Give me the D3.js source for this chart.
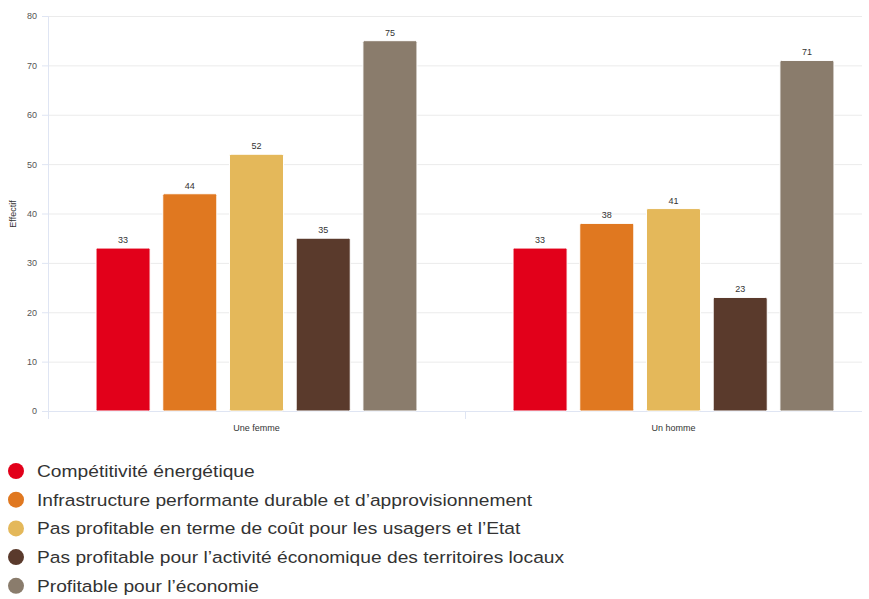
<!DOCTYPE html>
<html lang="fr">
<head>
<meta charset="UTF-8">
<title>Effectif</title>
<script src="https://d3js.org/d3.v7.min.js"></script>
<style>
    body { margin: 0; background: #fff; font-family: "Liberation Sans", Arial, sans-serif; }
    svg { display: block; }
</style>
</head>
<body>
<svg id="chart" width="869" height="599"></svg>
<script>
    // Data
    const categories = ["Une femme", "Un homme"];
    const seriesNames = [
        "Compétitivité énergétique",
        "Infrastructure performante durable et d’approvisionnement",
        "Pas profitable en terme de coût pour les usagers et l’Etat",
        "Pas profitable pour l’activité économique des territoires locaux",
        "Profitable pour l’économie"
    ];
    const seriesColors = ["#e2001a", "#e07820", "#e4b85a", "#5a3a2c", "#8a7c6c"];
    const femmeValues = [33, 44, 52, 35, 75];
    const hommeValues = [33, 38, 41, 23, 71];
    const yTicks = [0, 10, 20, 30, 40, 50, 60, 70, 80];

    const values = [femmeValues, hommeValues];

    const svg = d3.select('#chart');
    const plotLeft = 48, plotTop = 16, plotBottom = 411, gridRight = 862;

    // band step 417 px per category (right part of the plot is cut at 862)
    const x = d3.scaleBand().domain(categories).range([plotLeft, plotLeft + 834]);
    const xs = d3.scaleBand().domain(d3.range(seriesNames.length)).range([0, x.bandwidth()])
        .paddingInner(0.19).paddingOuter(0.72);
    const y = d3.scaleLinear().domain([0, 80]).range([plotBottom, plotTop]);

    // grid
    svg.append('g').selectAll('line').data(yTicks.filter(d => d > 0)).enter().append('line')
        .attr('x1', plotLeft).attr('x2', gridRight)
        .attr('y1', d => y(d) + 0.5).attr('y2', d => y(d) + 0.5)
        .attr('stroke', '#ebebeb');

    // y axis
    const yAxis = svg.append('g').attr('transform', `translate(${plotLeft},0)`)
        .call(d3.axisLeft(y).tickValues(yTicks).tickSize(6).tickPadding(5));
    yAxis.select('.domain').attr('stroke', '#dfe5f3');
    yAxis.selectAll('.tick line').attr('stroke', '#dfe5f3');
    yAxis.selectAll('text').attr('fill', '#555').style('font-size', '9px').style('font-family', 'Liberation Sans, Arial, sans-serif');

    svg.append('text').attr('transform', 'translate(16,214) rotate(-90)')
        .attr('text-anchor', 'middle').attr('fill', '#333').style('font-size', '9px').text('Effectif');

    // x axis
    svg.append('line').attr('x1', plotLeft).attr('x2', gridRight)
        .attr('y1', plotBottom + 0.5).attr('y2', plotBottom + 0.5).attr('stroke', '#dfe5f3');
    svg.append('g').selectAll('line').data([x(categories[0]), x(categories[1])]).enter().append('line')
        .attr('x1', d => d + 0.5).attr('x2', d => d + 0.5)
        .attr('y1', plotBottom).attr('y2', plotBottom + 8).attr('stroke', '#dfe5f3');
    svg.append('g').selectAll('text').data(categories).enter().append('text')
        .attr('x', d => x(d) + x.bandwidth() / 2).attr('y', plotBottom + 20)
        .attr('text-anchor', 'middle').attr('fill', '#333').style('font-size', '9px').text(d => d);

    // bars
    categories.forEach((c, ci) => {
        const g = svg.append('g').attr('transform', `translate(${x(c)},0)`);
        g.selectAll('rect').data(values[ci]).enter().append('rect')
            .attr('x', (d, i) => xs(i)).attr('width', xs.bandwidth())
            .attr('y', d => y(d)).attr('height', d => y(0) - y(d))
            .attr('rx', 1.5)
            .attr('fill', (d, i) => seriesColors[i])
            .attr('stroke', '#fff').attr('stroke-width', 1);
        g.selectAll('text').data(values[ci]).enter().append('text')
            .attr('x', (d, i) => xs(i) + xs.bandwidth() / 2).attr('y', d => y(d) - 5)
            .attr('text-anchor', 'middle').attr('fill', '#333')
            .style('font-size', '9px').text(d => d);
    });

    // legend
    const legend = svg.append('g').selectAll('g').data(seriesNames).enter().append('g')
        .attr('transform', (d, i) => `translate(16,${471 + i * 28.7})`);
    legend.append('circle').attr('r', 8).attr('fill', (d, i) => seriesColors[i]);
    legend.append('text').attr('transform', 'translate(21,6) scale(1.13,1)').attr('fill', '#333')
        .style('font-size', '17px').text(d => d);
</script>
</body>
</html>
